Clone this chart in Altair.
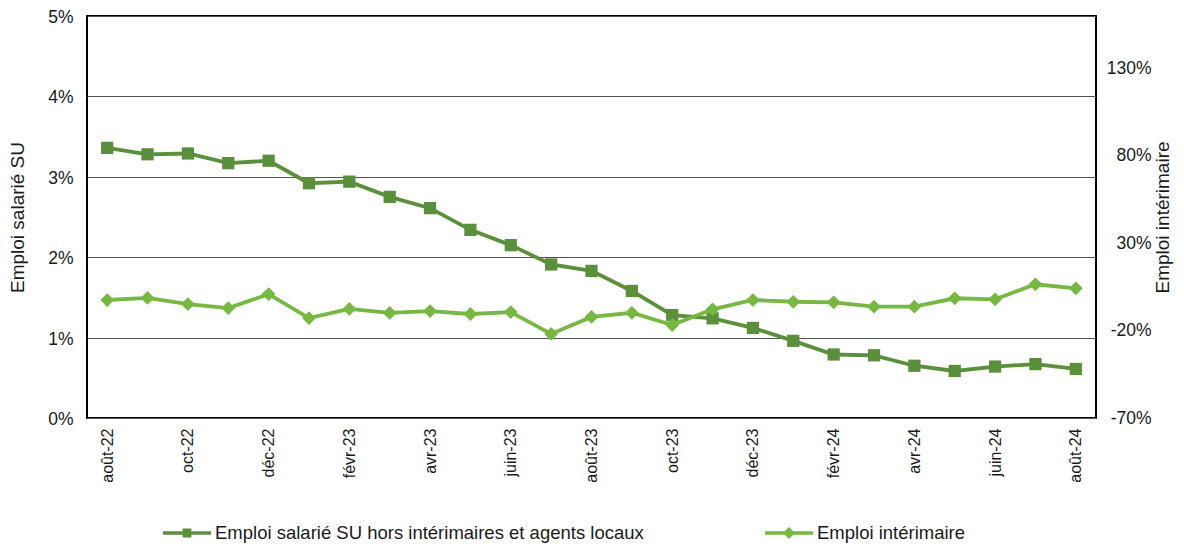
import altair as alt
import pandas as pd

months = ["août-22", "sept-22", "oct-22", "nov-22", "déc-22", "janv-23", "févr-23", "mars-23",
          "avr-23", "mai-23", "juin-23", "juil-23", "août-23", "sept-23", "oct-23", "nov-23",
          "déc-23", "janv-24", "févr-24", "mars-24", "avr-24", "mai-24", "juin-24", "juil-24", "août-24"]
emploi_su = [3.36, 3.28, 3.29, 3.17, 3.20, 2.92, 2.94, 2.75, 2.61, 2.34, 2.15, 1.91, 1.83,
             1.58, 1.28, 1.24, 1.12, 0.96, 0.79, 0.78, 0.65, 0.585, 0.64, 0.67, 0.61]
emploi_interim = [-2.5, -1.3, -4.8, -7.1, 0.9, -12.8, -7.6, -9.9, -8.8, -10.5, -9.4, -21.9, -12.2,
                  -9.8, -16.8, -7.8, -2.5, -3.5, -3.8, -6.3, -6.3, -1.5, -2.1, 6.5, 4.2]
shown_months = months[::2]
name_su = "Emploi salarié SU hors intérimaires et agents locaux"
name_int = "Emploi intérimaire"

dark = "#5a8f3c"
light = "#77b843"
font = "Liberation Sans"
txt = "#1a1a1a"

df = pd.DataFrame({"month": months, "su": emploi_su, "interim": emploi_interim,
                   "s_su": name_su, "s_int": name_int})

x = alt.X("month:N", sort=months, title=None,
          axis=alt.Axis(values=shown_months, labelAngle=270, ticks=False, domain=False,
                        labelFont=font, labelFontSize=16, labelColor=txt, labelPadding=10,
                        grid=False))

y_left = alt.Y("su:Q", scale=alt.Scale(domain=[0, 5], nice=False),
               axis=alt.Axis(title="Emploi salarié SU", values=[0, 1, 2, 3, 4, 5],
                             labelExpr="datum.value + '%'", ticks=False, domain=False,
                             grid=True, gridColor="#555555", gridWidth=1,
                             labelFont=font, labelFontSize=17.5, labelColor=txt, labelPadding=14,
                             labelOffset=1.5,
                             titleFont=font, titleFontSize=19, titleFontWeight="normal",
                             titleColor=txt, titlePadding=20))

y_right = alt.Y("interim:Q", scale=alt.Scale(domain=[-70, 160], nice=False),
                axis=alt.Axis(title="Emploi intérimaire", orient="right",
                              values=[-70, -20, 30, 80, 130],
                              labelExpr="datum.value + '%'", ticks=False, domain=False,
                              grid=False, labelAlign="right", labelPadding=55,
                              labelFont=font, labelFontSize=17.5, labelColor=txt,
                              titleFont=font, titleFontSize=19, titleFontWeight="normal",
                              titleColor=txt, titleAngle=270, titlePadding=21))

sq_path = "M-1,0H1M-0.11,-0.11H0.11V0.11H-0.11Z"
dm_path = "M-1,0H1M0,-0.15L0.15,0L0,0.15L-0.15,0Z"

def leg(path, lx, ly):
    return alt.Legend(title=None, orient="none", legendX=lx, legendY=ly, symbolType=path,
                      symbolSize=2304, symbolStrokeWidth=3.5, labelFont=font, labelFontSize=18.5,
                      labelColor=txt, labelOffset=2, padding=0, labelLimit=600)

left_line = alt.Chart(df).mark_line(strokeWidth=3.8).encode(
    x=x, y=y_left,
    color=alt.Color("s_su:N", scale=alt.Scale(range=[dark]), legend=leg(sq_path, 74, 491)))
left_pts = alt.Chart(df).mark_square(size=150, color=dark, opacity=1).encode(x=x, y="su:Q")

right_line = alt.Chart(df).mark_line(strokeWidth=3.8).encode(
    x=x, y=y_right,
    stroke=alt.Stroke("s_int:N", scale=alt.Scale(range=[light]), legend=leg(dm_path, 676, 491)))
right_pts = alt.Chart(df).mark_point(shape="diamond", filled=True, size=190, color=light,
                                      opacity=1).encode(x=x, y="interim:Q")

chart = alt.layer(alt.layer(left_line, left_pts), alt.layer(right_line, right_pts)).resolve_scale(
    y="independent"
).properties(
    width=1009, height=402,
    autosize=alt.AutoSizeParams(type="none"),
    padding={"left": 79, "top": 8, "right": 80, "bottom": 126},
    background="white",
).configure_view(stroke="#000000", strokeWidth=2)

chart.save("out.html", embed_options={"renderer": "svg", "actions": False})
